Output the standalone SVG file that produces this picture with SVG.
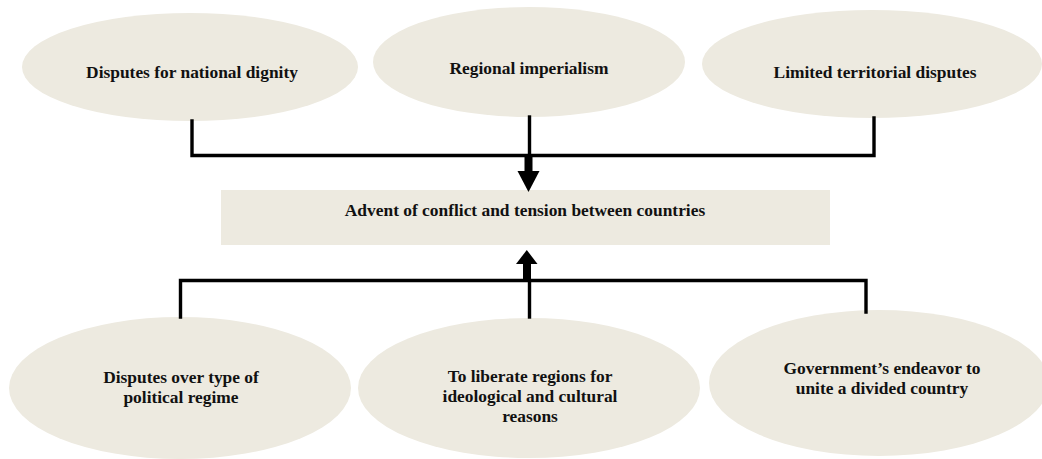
<svg xmlns="http://www.w3.org/2000/svg" width="1042" height="459" viewBox="0 0 1042 459">
<style>
.shape{fill:#EDEAE0;stroke:none}
.lbl{font-family:"Liberation Serif","Times New Roman",serif;font-weight:bold;font-size:17.4px;fill:#111;text-anchor:middle}
.wire{fill:none;stroke:#000;stroke-width:3.4;stroke-linecap:square;stroke-linejoin:miter}
.head{fill:#000;stroke:none}
</style>
<rect width="1042" height="459" fill="#fff"/>
<g id="n1"><ellipse class="shape" cx="190" cy="67" rx="168" ry="54"/><text class="lbl" x="192" y="78">Disputes for national dignity</text></g>
<g id="n2"><ellipse class="shape" cx="529" cy="62" rx="156" ry="55"/><text class="lbl" x="529" y="74">Regional imperialism</text></g>
<g id="n3"><ellipse class="shape" cx="872" cy="64" rx="170" ry="54"/><text class="lbl" x="875" y="78">Limited territorial disputes</text></g>
<g id="center"><rect class="shape" x="221" y="190" width="609" height="55"/><text class="lbl" x="525" y="216">Advent of conflict and tension between countries</text></g>
<g id="n4"><ellipse class="shape" cx="180" cy="388" rx="171" ry="71"/><text class="lbl" x="181" y="383">Disputes over type of</text><text class="lbl" x="181" y="403">political regime</text></g>
<g id="n5"><ellipse class="shape" cx="529" cy="388" rx="171" ry="70"/><text class="lbl" x="530" y="382">To liberate regions for</text><text class="lbl" x="530" y="402">ideological and cultural</text><text class="lbl" x="530" y="422">reasons</text></g>
<g id="n6"><ellipse class="shape" cx="879" cy="383" rx="170" ry="73"/><text class="lbl" x="882" y="374">Government’s endeavor to</text><text class="lbl" x="882" y="394">unite a divided country</text></g>
<g id="connectors">
<polyline class="wire" points="192,121 192,155.5 874,155.5 874,118"/>
<line class="wire" x1="529.5" y1="117" x2="529.5" y2="155"/>
<rect class="head" x="524.5" y="155" width="8" height="17"/>
<polygon class="head" points="517.5,171 539.5,171 528.5,192"/>
<polyline class="wire" points="180.5,317 180.5,280.5 866,280.5 866,312"/>
<line class="wire" x1="529.5" y1="281" x2="529.5" y2="317"/>
<rect class="head" x="523" y="263" width="8" height="17"/>
<polygon class="head" points="516,264 537.5,264 526.8,250"/>
</g>
</svg>
